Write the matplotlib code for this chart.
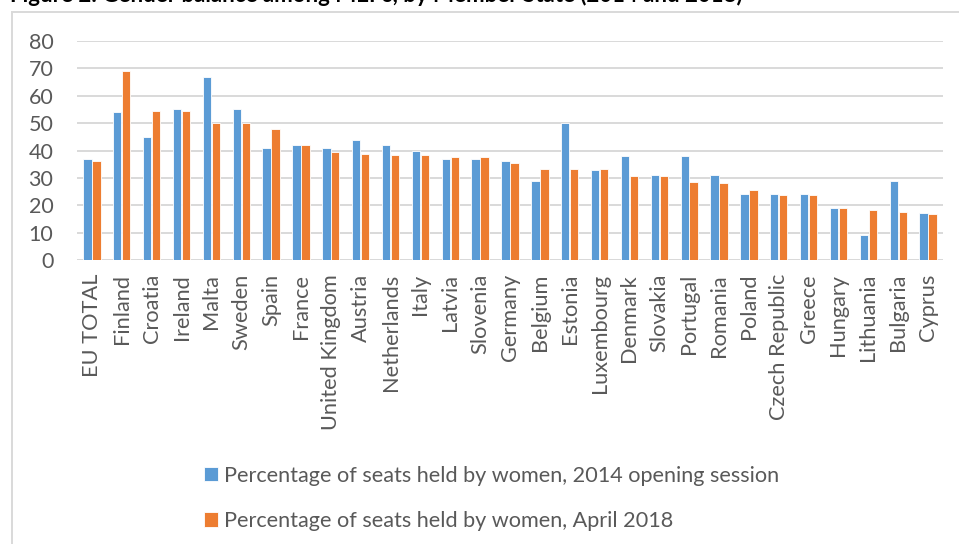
import matplotlib.pyplot as plt
import numpy as np
from matplotlib.patches import Rectangle

# =============================================================================
# data
# =============================================================================
countries = ["EU TOTAL", "Finland", "Croatia", "Ireland", "Malta", "Sweden", "Spain",
             "France", "United Kingdom", "Austria", "Netherlands", "Italy", "Latvia",
             "Slovenia", "Germany", "Belgium", "Estonia", "Luxembourg", "Denmark",
             "Slovakia", "Portugal", "Romania", "Poland", "Czech Republic", "Greece",
             "Hungary", "Lithuania", "Bulgaria", "Cyprus"]
women_2014 = [37, 54, 45, 55, 67, 55, 41, 42, 41, 44, 42, 40, 37, 37, 36, 29, 50, 33,
              38, 31, 38, 31, 24, 24, 24, 19, 9, 29, 17]
women_2018 = [36.1, 69, 54.5, 54.5, 50, 50, 48, 42, 39.5, 38.9, 38.5, 38.4, 37.5, 37.5,
              35.4, 33.3, 33.3, 33.3, 30.8, 30.8, 28.6, 28.1, 25.5, 23.8, 23.8, 19, 18.2,
              17.6, 16.7]
label_2014 = "Percentage of seats held by women, 2014 opening session"
label_2018 = "Percentage of seats held by women, April 2018"
yticks = [0, 10, 20, 30, 40, 50, 60, 70, 80]

blue = "#5B9BD5"
orange = "#ED7D31"
grid_c = "#D9D9D9"
text_c = "#595959"

plt.rcParams['font.family'] = ['Lato', 'DejaVu Sans']

W, H = 959, 544
fig = plt.figure(figsize=(W / 100, H / 100), dpi=100)

# light frame of the chart area (cut by the image border at right/bottom)
fig.patches.append(Rectangle((12 / W, -0.05), 1.1, 1 - 12 / H + 0.05,
                             transform=fig.transFigure, fill=False,
                             edgecolor=grid_c, lw=1.4))

# title, only its lower part shows in the reference
fig.text(10 / W, 1 - 2 / H, "Figure 2: Gender balance among MEPs, by Member State (2014 and 2018)",
         fontsize=16, fontweight='bold', color='black', va='baseline', ha='left')

ax = fig.add_axes([77 / W, 1 - 260 / H, (943 - 77) / W, (260 - 41) / H])
x = np.arange(len(countries))
off = 0.15
bw = 0.28
b1 = ax.bar(x - off, women_2014, bw, color=blue, edgecolor='white', lw=0.6,
            label=label_2014, zorder=3)
b2 = ax.bar(x + off, women_2018, bw, color=orange, edgecolor='white', lw=0.6,
            label=label_2018, zorder=3)

ax.set_xlim(-0.5, len(countries) - 0.5)
ax.set_ylim(0, 80)
ax.set_yticks(yticks)
ax.yaxis.grid(True, color=grid_c, lw=1.4, zorder=0)
ax.set_axisbelow(True)
for s in ax.spines.values():
    s.set_visible(False)
ax.axhline(0, color=grid_c, lw=1.4, zorder=2)

ax.set_xticks(x)
ax.set_xticklabels(countries, rotation=90, fontsize=15.7, color=text_c)
ax.tick_params(axis='x', length=0, pad=10)
ax.tick_params(axis='y', length=0, pad=17, labelsize=15.5, labelcolor=text_c)

leg = fig.legend(handles=[b1, b2], loc='upper left',
                 bbox_to_anchor=(193 / W, 1 - 455 / H), frameon=False,
                 fontsize=15.6, labelcolor=text_c, handlelength=0.65, handleheight=0.65,
                 handletextpad=0.3, labelspacing=1.17, borderpad=0)

fig.savefig("out.png", dpi=100)
